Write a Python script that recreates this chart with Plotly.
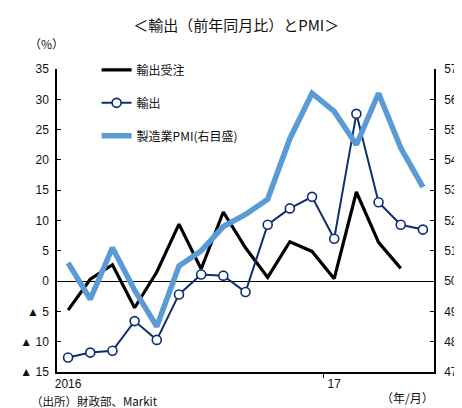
import plotly.graph_objects as go

months = list(range(17))  # 2016/01 .. 2017/05
xtick_vals = [0, 12]
xtick_text = ["2016", "17"]

export_orders = [-4.8, 0.3, 2.7, -4.4, 1.5, 9.4, 2.0, 11.4, 5.5, 0.6, 6.5, 4.9, 0.4, 14.7, 6.4, 2.1]
exports = [-12.6, -11.8, -11.5, -6.6, -9.7, -2.2, 1.1, 0.9, -1.8, 9.3, 12.0, 13.9, 7.0, 27.6, 13.0, 9.3, 8.5]
pmi = [50.6, 49.4, 51.1, 49.7, 48.5, 50.5, 51.0, 51.8, 52.2, 52.7, 54.7, 56.2, 55.6, 54.5, 56.2, 54.4, 53.1]

left_vals = [-15, -10, -5, 0, 5, 10, 15, 20, 25, 30, 35]
left_text = ["▲ 15", "▲ 10", "▲ 5", "0", "5", "10", "15", "20", "25", "30", "35"]
right_vals = [47, 48, 49, 50, 51, 52, 53, 54, 55, 56, 57]

NUM = "Liberation Sans, Arial, sans-serif"
CJK = "Noto Sans CJK JP, sans-serif"

fig = go.Figure()
fig.add_trace(go.Scatter(
    x=months[:len(export_orders)], y=export_orders, name="輸出受注", mode="lines",
    line=dict(color="#000000", width=3.2), legendgroup="a"))
fig.add_trace(go.Scatter(
    x=months, y=exports, name="輸出", mode="lines+markers",
    line=dict(color="#0e2f6e", width=2),
    marker=dict(symbol="circle", size=9, color="white", line=dict(color="#0e2f6e", width=1.6)),
    legendgroup="b"))
fig.add_trace(go.Scatter(
    x=months, y=pmi, name="製造業PMI(右目盛)", mode="lines", yaxis="y2",
    line=dict(color="#5b9bd5", width=5.5), legendgroup="c"))

fig.update_layout(
    width=462, height=408,
    margin=dict(l=49, r=27, t=61, b=44),
    paper_bgcolor="white", plot_bgcolor="white",
    font=dict(family=NUM, size=12, color="#222"),
    title=dict(text="＜輸出（前年同月比）とPMI＞", x=0.494, xanchor="center",
               y=1 - 18 / 408, yanchor="middle", xref="container", yref="container",
               font=dict(family=CJK, size=15, color="#111")),
    showlegend=True,
    legend=dict(x=0.105, y=1.045, xanchor="left", yanchor="top",
                traceorder="grouped", tracegroupgap=14,
                font=dict(family=CJK, size=12, color="#111"),
                bgcolor="rgba(0,0,0,0)", itemwidth=30),
    xaxis=dict(range=[-0.5, 16.5], showline=True, linecolor="black", linewidth=1.5,
               tickmode="array", tickvals=xtick_vals, ticktext=xtick_text,
               ticks="", showgrid=False, zeroline=False,
               tickfont=dict(family=NUM, size=12, color="#111"),
               minor=dict(tickmode="array", tickvals=[11.5], ticks="outside",
                          ticklen=4, tickcolor="black", showgrid=False)),
    yaxis=dict(range=[-15, 35], tickmode="array", tickvals=left_vals, ticktext=left_text,
               showline=True, linecolor="black", linewidth=1.5,
               ticks="inside", ticklen=4, tickcolor="black",
               showgrid=False, zeroline=True, zerolinecolor="black", zerolinewidth=1,
               ticklabelstandoff=4,
               tickfont=dict(family=NUM, size=12, color="#111")),
    yaxis2=dict(range=[47, 57], tickmode="array", tickvals=right_vals,
                overlaying="y", side="right",
                showline=True, linecolor="black", linewidth=1.5,
                ticks="inside", ticklen=4, tickcolor="black",
                showgrid=False, zeroline=False, ticklabelstandoff=6,
                tickfont=dict(family=NUM, size=12, color="#111")),
)

fig.add_annotation(text="（%）", xref="paper", yref="paper",
                   x=(38 - 49) / 386, y=(364 - 35) / 303, xanchor="center", yanchor="middle",
                   showarrow=False, font=dict(family=CJK, size=12, color="#111"))
fig.add_annotation(text="（年/月）", xref="paper", yref="paper",
                   x=(408 - 49) / 386, y=(364 - 389) / 303, xanchor="center", yanchor="middle",
                   showarrow=False, font=dict(family=CJK, size=12, color="#111"))
fig.add_annotation(text="（出所）財政部、Markit", xref="paper", yref="paper",
                   x=(20 - 49) / 386, y=(364 - 393) / 303, xanchor="left", yanchor="middle",
                   showarrow=False, font=dict(family=CJK, size=11.5, color="#111"))

fig.write_html("out.html")
